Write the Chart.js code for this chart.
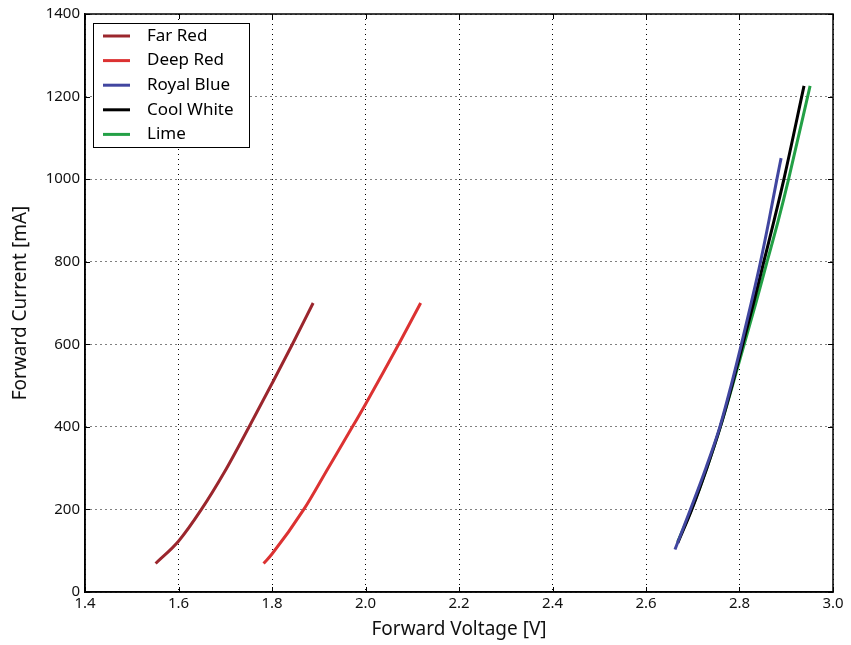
<!DOCTYPE html>
<html>
<head>
<meta charset="utf-8">
<script src="https://cdn.jsdelivr.net/npm/chart.js@4"></script>
<style>
  html, body { margin: 0; padding: 0; background: #fff; }
  #wrap { width: 851px; height: 645px; }
</style>
</head>
<body>
<div id="wrap"><canvas id="ivcurve"></canvas></div>
<script>
// series names and colours
const seriesNames = ['Far Red', 'Deep Red', 'Royal Blue', 'Cool White', 'Lime'];
const seriesColors = ['rgb(155, 38, 45)', 'rgb(220, 50, 50)', 'rgb(65, 70, 160)', 'rgb(0, 0, 0)', 'rgb(35, 160, 70)'];

// forward voltage [V] / forward current [mA]
const farRedV = [1.551, 1.600, 1.649, 1.698, 1.750, 1.800, 1.845, 1.888];
const farRedI = [69, 123, 200, 290, 398, 505, 603, 700];

const deepRedV = [1.782, 1.800, 1.868, 1.920, 1.972, 2.000, 2.071, 2.118];
const deepRedI = [69, 92, 200, 300, 400, 455, 600, 700];

const royalBlueV = [2.662, 2.695, 2.728, 2.758, 2.782, 2.804, 2.825, 2.845, 2.863, 2.880, 2.889];
const royalBlueI = [103, 200, 300, 400, 500, 600, 700, 800, 900, 1000, 1051];

const coolWhiteV = [2.668, 2.698, 2.730, 2.759, 2.784, 2.807, 2.830, 2.852, 2.874, 2.895, 2.938];
const coolWhiteI = [119, 200, 300, 400, 500, 600, 700, 800, 900, 1000, 1226];

const limeV = [2.668, 2.698, 2.730, 2.759, 2.785, 2.810, 2.835, 2.859, 2.883, 2.905, 2.951];
const limeI = [122, 202, 300, 400, 500, 600, 700, 800, 900, 1000, 1226];

const xTicks = [1.4, 1.6, 1.8, 2.0, 2.2, 2.4, 2.6, 2.8, 3.0];
const yTicks = [0, 200, 400, 600, 800, 1000, 1200, 1400];

function pts(vs, is){
  return vs.map((v, k) => ({x: v, y: is[k]}));
}

const allV = [farRedV, deepRedV, royalBlueV, coolWhiteV, limeV];
const allI = [farRedI, deepRedI, royalBlueI, coolWhiteI, limeI];

const datasets = seriesNames.map((name, k) => ({
  label: name,
  data: pts(allV[k], allI[k]),
  borderColor: seriesColors[k],
  backgroundColor: seriesColors[k],
  borderWidth: 3,
  showLine: true,
  pointRadius: 0,
  cubicInterpolationMode: 'monotone',
  borderCapStyle: 'butt'
}));

// frame, inward ticks and the boxed legend
const framePlugin = {
  id: 'frame',
  afterDraw(chart){
    const ctx = chart.ctx;
    const a = chart.chartArea;
    const xs = chart.scales.x, ys = chart.scales.y;
    ctx.save();
    ctx.strokeStyle = '#000';
    ctx.lineWidth = 1;
    ctx.beginPath();
    xTicks.forEach(t => {
      const px = Math.round(xs.getPixelForValue(t)) + 0.5;
      ctx.moveTo(px, a.bottom); ctx.lineTo(px, a.bottom - 5);
      ctx.moveTo(px, a.top); ctx.lineTo(px, a.top + 5);
    });
    yTicks.forEach(t => {
      const py = Math.round(ys.getPixelForValue(t)) + 0.5;
      ctx.moveTo(a.left, py); ctx.lineTo(a.left + 5, py);
      ctx.moveTo(a.right, py); ctx.lineTo(a.right - 5, py);
    });
    ctx.stroke();
    ctx.lineWidth = 1.5;
    ctx.strokeRect(a.left, a.top, a.right - a.left, a.bottom - a.top);

    // legend
    const lx = a.left + 8, ly = a.top + 9, lw = 156, lh = 124;
    ctx.fillStyle = '#fff';
    ctx.fillRect(lx, ly, lw, lh);
    ctx.lineWidth = 1;
    ctx.strokeStyle = '#000';
    ctx.strokeRect(lx + 0.5, ly + 0.5, lw, lh);
    ctx.font = '17px "Noto Sans"';
    ctx.textBaseline = 'middle';
    ctx.textAlign = 'left';
    chart.data.datasets.forEach((ds, k) => {
      const y = ly + 13 + k * 24.6;
      ctx.strokeStyle = ds.borderColor;
      ctx.lineWidth = 3;
      ctx.beginPath();
      ctx.moveTo(lx + 10, y); ctx.lineTo(lx + 37, y);
      ctx.stroke();
      ctx.fillStyle = '#000';
      ctx.fillText(ds.label, lx + 54, y);
    });
    ctx.restore();
  }
};

const gridOpts = {
  color: '#000',
  lineWidth: 1,
  drawTicks: false
};

const config = {
  type: 'scatter',
  data: { datasets: datasets },
  options: {
    responsive: false,
    animation: false,
    layout: { padding: { top: 13, right: 18, left: 0, bottom: 0 } },
    plugins: {
      legend: { display: false },
      tooltip: { enabled: false }
    },
    scales: {
      x: {
        type: 'linear',
        min: 1.4,
        max: 3.0,
        afterBuildTicks(scale){ scale.ticks = xTicks.map(v => ({value: v})); },
        afterFit(scale){ scale.height = 53; },
        ticks: {
          color: '#111',
          font: { family: 'Noto Sans', size: 15 },
          padding: 3,
          callback: v => v.toFixed(1)
        },
        grid: gridOpts,
        border: { display: true, color: '#000', width: 1.5, dash: [1, 4] },
        title: {
          display: true,
          text: 'Forward Voltage [V]',
          color: '#111',
          font: { family: 'Noto Sans', size: 19 },
          padding: { top: 4, bottom: 4 }
        }
      },
      y: {
        type: 'linear',
        min: 0,
        max: 1400,
        afterBuildTicks(scale){ scale.ticks = yTicks.map(v => ({value: v})); },
        afterFit(scale){ scale.width = 85; },
        ticks: {
          color: '#111',
          font: { family: 'Noto Sans', size: 15 },
          padding: 5,
          callback: v => String(v)
        },
        grid: gridOpts,
        border: { display: true, color: '#000', width: 1.5, dash: [1, 4] },
        title: {
          display: true,
          text: 'Forward Current [mA]',
          color: '#111',
          font: { family: 'Noto Sans', size: 19 },
          padding: { top: 9, bottom: 9 }
        }
      }
    }
  },
  plugins: [framePlugin]
};

const canvas = document.getElementById('ivcurve');
canvas.width = 851;
canvas.height = 645;
var ivChart = new Chart(canvas, config);
</script>
</body>
</html>
